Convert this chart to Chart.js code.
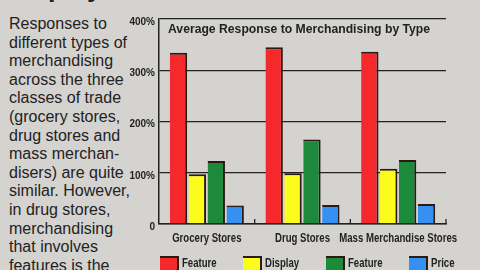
<!doctype html>
<html lang="en">
  <head>
    <meta charset="utf-8">
    <title>Average Response to Merchandising by Type</title>
    <script src="https://cdn.jsdelivr.net/npm/chart.js@4.4.0/dist/chart.umd.min.js"></script>
    <style>
      html, body { margin: 0; padding: 0; }
      body {
        width: 480px; height: 270px; overflow: hidden; position: relative;
        background: #d5d3d0; font-family: "Liberation Sans", Arial, sans-serif; color: #222;
      }
      h2 {
        position: absolute; left: 6px; top: -28px; margin: 0;
        font-size: 27px; font-weight: bold; white-space: nowrap;
      }
      p.side {
        position: absolute; left: 9px; top: 15px; margin: 0;
        font-size: 16px; line-height: 18.6px; white-space: nowrap;
      }
      #wrap { position: absolute; left: 110px; top: 0; width: 370px; height: 270px; }
    </style>
  </head>
  <body>
    <h2>Display for Feature</h2>
    <p class="side">Responses to<br>different types of<br>merchandising<br>across the three<br>classes of trade<br>(grocery stores,<br>drug stores and<br>mass merchan-<br>disers) are quite<br>similar. However,<br>in drug stores,<br>merchandising<br>that involves<br>features is the</p>
    <div id="wrap"><canvas id="myChart" width="370" height="270"></canvas></div>

    <script>
      // Data (percent response)
      const categories = ["Grocery Stores", "Drug Stores", "Mass Merchandise Stores"];
      const seriesNames = ["Feature", "Display", "Feature", "Price"];
      const feature = [334, 345, 336];
      const display = [97, 99, 108];
      const featureDisplay = [123, 165, 125];
      const price = [36, 37, 39];
      const yTicks = [0, 100, 200, 300, 400];

      const colors = ["#f5292b", "#fbfb1c", "#1d8a3b", "#3590f2"];
      const edge = "#2a1a12";
      const ink = "#222";
      const narrow = "'Liberation Sans Narrow', 'Arial Narrow', sans-serif";
      const squeeze = 0.8;

      // condensed text: the printed labels are narrower than any installed face
      function tightText(ctx, text, x, y, align) {
        ctx.save();
        ctx.translate(x, y);
        ctx.scale(squeeze, 1);
        ctx.textAlign = align;
        ctx.fillText(text, 0, 0);
        ctx.restore();
      }

      // title inside the plot box, category labels, boundary ticks and legend
      const extras = {
        id: "extras",
        afterDraw(chart) {
          const ctx = chart.ctx;
          const a = chart.chartArea;
          const x = chart.scales.x;
          ctx.save();

          ctx.fillStyle = ink;
          ctx.font = "bold 12.2px 'Liberation Sans', Arial, sans-serif";
          ctx.textAlign = "left";
          ctx.textBaseline = "middle";
          ctx.fillText("Average Response to Merchandising by Type", a.left + 9, a.top + 11);

          ctx.strokeStyle = ink;
          ctx.lineWidth = 1.3;
          for (let i = 1; i <= categories.length; i++) {
            let bx = i < categories.length
              ? (x.getPixelForValue(i - 1) + x.getPixelForValue(i)) / 2
              : a.right;
            ctx.beginPath();
            ctx.moveTo(bx, a.bottom);
            ctx.lineTo(bx, a.bottom - 5);
            ctx.stroke();
          }

          ctx.font = "bold 12px " + narrow;
          ctx.textBaseline = "alphabetic";
          chart.data.labels.forEach((lab, i) => {
            tightText(ctx, lab, x.getPixelForValue(i), a.bottom + 18, "center");
          });

          // legend
          chart.data.datasets.forEach((ds, i) => {
            const lx = a.left + 1 + i * 83;
            const ly = 256;
            ctx.fillStyle = ds.backgroundColor;
            ctx.fillRect(lx, ly, 19, 20);
            ctx.fillStyle = edge;
            ctx.fillRect(lx, ly, 19, 2);
            ctx.fillRect(lx + 17, ly, 2, 20);
            ctx.fillStyle = ink;
            tightText(ctx, ds.label, lx + 22, 267, "left");
          });
          ctx.restore();
        }
      };

      const series = [feature, display, featureDisplay, price];

      const myChart = new Chart(document.getElementById("myChart"), {
        type: "bar",
        data: {
          labels: categories,
          datasets: series.map((vals, i) => ({
            label: seriesNames[i],
            data: vals,
            backgroundColor: colors[i],
            borderColor: edge,
            borderWidth: { top: 2, right: 2, left: 0, bottom: 0 },
            borderSkipped: false,
            categoryPercentage: 0.79,
            barPercentage: 0.92
          }))
        },
        options: {
          responsive: false,
          animation: false,
          layout: { padding: { top: 19, right: 34, left: 0, bottom: 0 } },
          plugins: { legend: { display: false }, tooltip: { enabled: false } },
          scales: {
            x: {
              grid: { display: false },
              border: { display: true, color: ink, width: 1.5 },
              ticks: { display: false },
              afterFit(scale) { scale.height = 46; }
            },
            y: {
              min: 0,
              max: 400,
              afterBuildTicks(scale) { scale.ticks = yTicks.map(v => ({ value: v })); },
              grid: { color: ink, lineWidth: 1.3, drawTicks: false },
              border: { display: true, color: ink, width: 1.5 },
              ticks: {
                color: ink,
                padding: 4,
                labelOffset: 3,
                font: { family: "'Liberation Sans', Arial, sans-serif", weight: "bold", size: 10 },
                callback: v => v === 0 ? "0" : v + "%"
              },
              afterFit(scale) { scale.width = 49; }
            }
          }
        },
        plugins: [extras]
      });
    </script>
  </body>
</html>
